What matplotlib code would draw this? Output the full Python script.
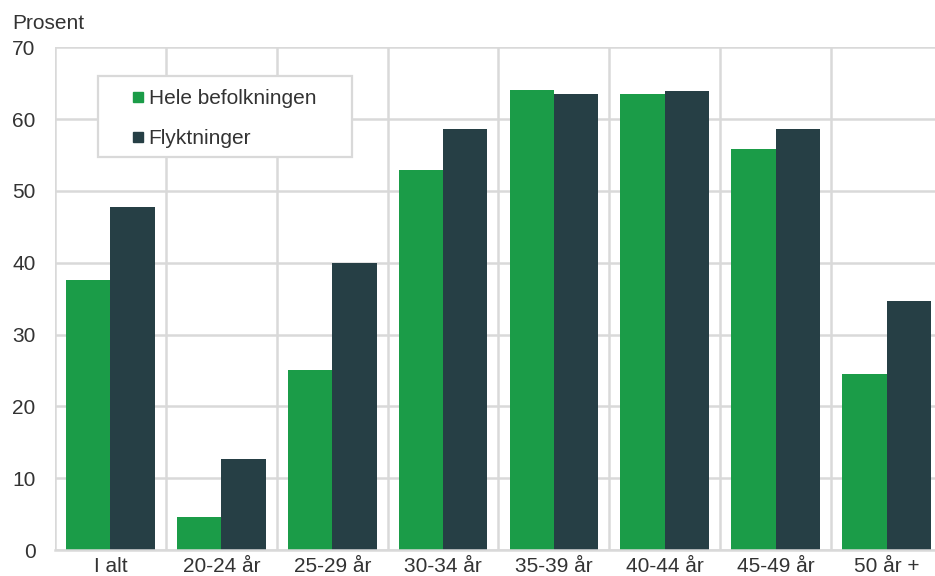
import matplotlib.pyplot as plt
import numpy as np
from matplotlib.lines import Line2D
from matplotlib.patches import Rectangle

plt.rcParams['font.family'] = ['Liberation Sans', 'DejaVu Sans']

# data
categories = ['I alt', '20-24 år', '25-29 år', '30-34 år', '35-39 år',
              '40-44 år', '45-49 år', '50 år +']
hele = [37.6, 4.6, 25.0, 52.9, 64.0, 63.5, 55.8, 24.5]
flyktninger = [47.7, 12.7, 39.9, 58.6, 63.5, 63.9, 58.6, 34.7]
series_names = ['Hele befolkningen', 'Flyktninger']

green = '#1b9c48'
dark = '#263f45'
grid_col = '#d9d9d9'
txt_col = '#333333'
fs = 15

fig = plt.figure(figsize=(9.35, 5.76), dpi=100)
ax = fig.add_axes([55/935, 1-550/576, (942-55)/935, (550-47.3)/576])

x = np.arange(len(categories))
w = 0.4
ax.bar(x - w/2, hele, width=w, color=green, zorder=3)
ax.bar(x + w/2, flyktninger, width=w, color=dark, zorder=3)

ax.set_xlim(-0.5, len(categories) - 0.5)
ax.set_ylim(0, 70)
ax.set_yticks(range(0, 71, 10))
ax.set_xticks(x)
ax.set_xticklabels(categories)
ax.set_xticks(np.arange(-0.5, len(categories), 1), minor=True)

for s in ax.spines.values():
    s.set_visible(False)
ax.grid(axis='y', which='major', color=grid_col, linewidth=1.8, zorder=0)
ax.grid(axis='x', which='minor', color=grid_col, linewidth=1.8, zorder=0)
ax.grid(axis='x', which='major', visible=False)
ax.tick_params(axis='both', which='both', length=0, labelsize=fs, colors=txt_col)
ax.tick_params(axis='y', pad=14)
ax.tick_params(axis='x', pad=5)
ax.axhline(0, color=grid_col, linewidth=1.8, zorder=4, clip_on=False)

fig.text(12/935, 1-29/576, 'Prosent', fontsize=fs, color=txt_col, va='baseline')

# legend box
ax.add_patch(Rectangle((98/935, 1-157/576), (352-98)/935, (157-76)/576,
                       transform=fig.transFigure, facecolor='white',
                       edgecolor=grid_col, linewidth=1.6, zorder=5,
                       clip_on=False))
handles = [Line2D([], [], marker='s', ls='', color=c, markersize=7.3)
           for c in (green, dark)]
leg = ax.legend(handles, series_names, loc='upper left',
                bbox_to_anchor=(131/935, 1-89/576), bbox_transform=fig.transFigure,
                frameon=False, borderpad=0, borderaxespad=0, handlelength=0.7,
                handletextpad=0.15, labelspacing=1.0, fontsize=fs)
for t in leg.get_texts():
    t.set_color(txt_col)
leg.set_zorder(6)

fig.savefig('out.png', dpi=100)
